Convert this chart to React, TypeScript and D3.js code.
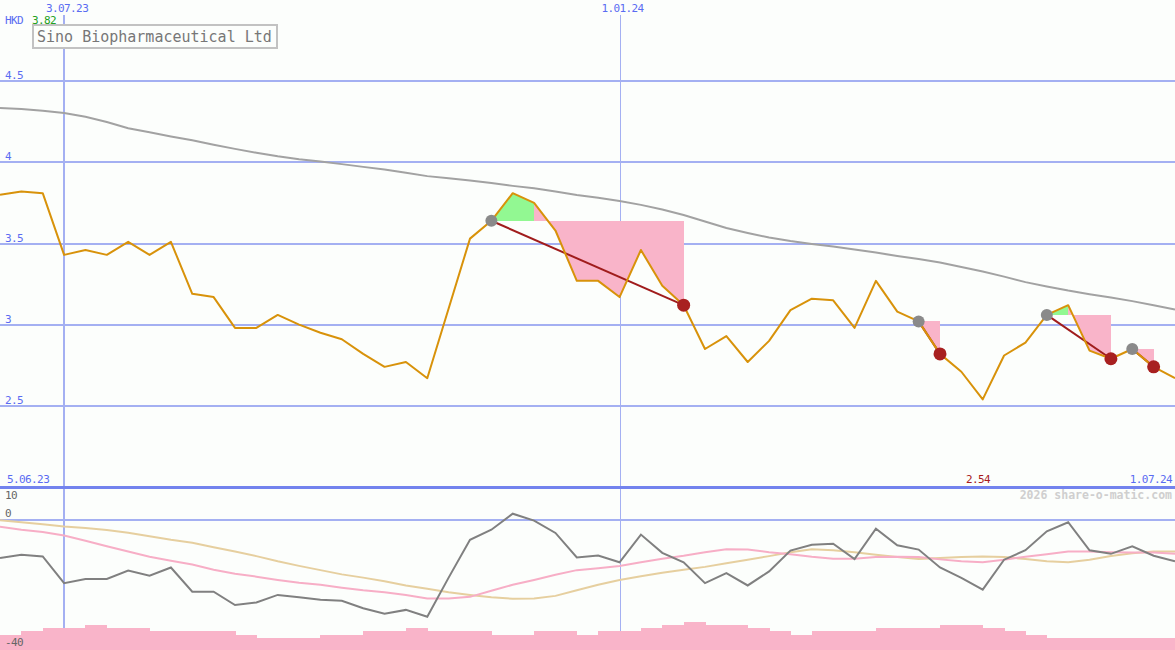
import React from 'react';
import * as d3 from 'd3';

// ---------- data ----------
const startDate = new Date(2023, 5, 12);
const endDate = new Date(2024, 6, 1);
const weeks = d3.timeMonday.range(startDate, d3.timeDay.offset(endDate, 1));

const price = [3.80, 3.82, 3.81, 3.43, 3.46, 3.43, 3.51, 3.43, 3.51, 3.19,
  3.17, 2.98, 2.98, 3.06, 3.00, 2.95, 2.91, 2.82, 2.74, 2.77,
  2.67, 3.10, 3.53, 3.64, 3.81, 3.75, 3.58, 3.27, 3.27, 3.17,
  3.46, 3.24, 3.12, 2.85, 2.93, 2.77, 2.90, 3.09, 3.16, 3.15,
  2.98, 3.27, 3.08, 3.02, 2.82, 2.71, 2.54, 2.81, 2.89, 3.06,
  3.12, 2.84, 2.79, 2.85, 2.74, 2.67];

const longMA = [4.335, 4.328, 4.318, 4.304, 4.281, 4.248, 4.210, 4.185, 4.159, 4.136,
  4.108, 4.083, 4.059, 4.037, 4.019, 4.005, 3.989, 3.972, 3.956, 3.936,
  3.915, 3.902, 3.888, 3.872, 3.855, 3.840, 3.821, 3.799, 3.782, 3.762,
  3.738, 3.710, 3.676, 3.636, 3.596, 3.565, 3.537, 3.515, 3.497, 3.481,
  3.463, 3.444, 3.423, 3.404, 3.383, 3.355, 3.327, 3.296, 3.262, 3.235,
  3.210, 3.188, 3.167, 3.145, 3.120, 3.093];

const oscillator = [-11.8, -10.8, -11.3, -19.5, -18.2, -18.2, -15.6, -17.2, -14.7, -22.1,
  -22.1, -26.2, -25.4, -23.1, -23.8, -24.6, -24.9, -27.2, -28.9, -27.7,
  -29.8, -17.8, -6.2, -3.1, 1.8, -0.3, -4.1, -11.6, -11.0, -13.1,
  -4.6, -10.2, -13.1, -19.5, -16.4, -20.2, -15.9, -9.5, -7.7, -7.4,
  -12.1, -2.8, -7.9, -9.2, -14.7, -17.9, -21.5, -12.3, -9.4, -3.6,
  -0.8, -9.4, -10.5, -8.2, -11.1, -12.8];

const oscFast = [-2.2, -3.1, -3.8, -4.9, -6.5, -8.2, -9.8, -11.4, -12.6, -13.8,
  -15.4, -16.6, -17.5, -18.5, -19.4, -20.0, -20.9, -21.7, -22.3, -23.1,
  -24.2, -24.2, -23.7, -21.8, -20.0, -18.5, -16.9, -15.5, -14.9, -14.2,
  -13.1, -12.0, -11.1, -10.0, -9.1, -9.2, -10.0, -10.6, -11.4, -12.0,
  -12.0, -11.5, -11.4, -11.5, -12.2, -12.8, -13.1, -12.3, -11.4, -10.6,
  -9.8, -9.8, -10.0, -10.1, -10.1, -10.5];

const oscSlow = [-0.2, -0.8, -1.4, -2.1, -2.6, -3.2, -4.0, -5.1, -6.2, -7.1,
  -8.5, -9.8, -11.2, -12.8, -14.2, -15.5, -16.8, -17.8, -18.9, -20.2,
  -21.2, -22.3, -23.1, -23.8, -24.3, -24.2, -23.4, -21.7, -20.0, -18.5,
  -17.4, -16.3, -15.4, -14.5, -13.4, -12.3, -11.2, -10.0, -9.1, -9.4,
  -10.0, -10.8, -11.5, -12.1, -11.8, -11.5, -11.3, -11.5, -12.1, -12.8,
  -13.1, -12.3, -11.2, -10.3, -9.8, -9.8];

const volume = [49, 63, 73, 73, 82, 73, 73, 63, 63, 63,
  63, 49, 40, 40, 40, 49, 49, 63, 63, 73,
  63, 63, 63, 49, 49, 63, 63, 49, 63, 63,
  73, 82, 93, 82, 82, 73, 63, 49, 63, 63,
  63, 73, 73, 73, 82, 82, 73, 63, 49, 40,
  40, 40, 40, 40, 40, 40];

const tradeEntries = [23, 43, 49, 53];
const tradeExits = [32, 44, 52, 54];

const priceTicks = [4.5, 4, 3.5, 3, 2.5];
const dateMarks = [new Date(2023, 6, 3), new Date(2024, 0, 1)];
const dateMarkLabels = ['3.07.23', '1.01.24'];
const oscTickLabels = ['10', '0', '-40'];

const title = 'Sino Biopharmaceutical Ltd';
const currency = 'HKD';
const highLabel = '3.82';
const lowLabel = '2.54';
const startLabel = '5.06.23';
const endLabel = '1.07.24';
const watermark = '2026 share-o-matic.com';

// ---------- layout ----------
const W = 1175;
const H = 650;
const FONT = '"DejaVu Sans Mono", "Liberation Mono", monospace';
const BLUE = '#5a6cf2';
const GRID = '#a4b0f2';
const FS = 11;
const LS = -0.6;

export default function App() {
  const x = d3.scaleTime().domain([startDate, endDate]).range([0, W]);
  const y = d3.scaleLinear().domain([2, 5]).range([487, 0]);
  const yo = d3.scaleLinear().domain([-40, 10]).range([650, 487]);
  const yv = d3.scaleLinear().domain([0, 100]).range([650, 619.5]);

  const lineMain = (vals: number[]) =>
    d3.line<number>().x((_, i) => x(weeks[i])).y((d) => y(d))(vals) || '';
  const lineOsc = (vals: number[]) =>
    d3.line<number>().x((_, i) => x(weeks[i])).y((d) => yo(d))(vals) || '';

  const fills: { d: string; c: string }[] = [];
  tradeEntries.forEach((e, t) => {
    const xEnd = tradeExits[t];
    const level = price[e];
    for (let j = e; j < xEnd; j++) {
      const pts: [number, number][] = [
        [x(weeks[j]), y(level)],
        [x(weeks[j]), y(price[j])],
        [x(weeks[j + 1]), y(price[j + 1])],
        [x(weeks[j + 1]), y(level)],
      ];
      fills.push({
        d: 'M' + pts.map((p) => p.join(',')).join('L') + 'Z',
        c: price[j + 1] >= level ? '#92f892' : '#f9b4c9',
      });
    }
  });

  const crisp = (v: number) => Math.round(v) + 0.5;

  return (
    <svg
      width={W}
      height={H}
      style={{ position: 'fixed', left: 0, top: 0, display: 'block' }}
      fontFamily={FONT}
    >
      <defs>
        <clipPath id="mainClip">
          <rect x={0} y={0} width={W} height={486} />
        </clipPath>
        <clipPath id="oscClip">
          <rect x={0} y={488} width={W} height={162} />
        </clipPath>
      </defs>
      <rect x={0} y={0} width={W} height={H} fill="#fcfefc" />

      {/* horizontal price grid */}
      {priceTicks.map((t) => (
        <g key={t}>
          <line x1={0} x2={W} y1={Math.round(y(t))} y2={Math.round(y(t))} stroke={GRID} strokeWidth={2} shapeRendering="crispEdges" />
          <text x={5} y={Math.round(y(t)) - 2} fontSize={FS} letterSpacing={LS} fill={BLUE}>{String(t)}</text>
        </g>
      ))}

      {/* vertical date lines */}
      {dateMarks.map((d, i) => (
        <g key={i}>
          <line
            x1={i === 0 ? Math.round(x(d)) : crisp(x(d))}
            x2={i === 0 ? Math.round(x(d)) : crisp(x(d))}
            y1={15}
            y2={640}
            stroke={GRID}
            strokeWidth={i === 0 ? 2 : 1}
            shapeRendering="crispEdges"
          />
          <text x={x(d) + 3} y={12} fontSize={FS} letterSpacing={LS} fill={BLUE} textAnchor="middle">
            {dateMarkLabels[i]}
          </text>
        </g>
      ))}

      {/* main panel */}
      <g clipPath="url(#mainClip)">
        <path d={lineMain(longMA)} fill="none" stroke="#a2a2a2" strokeWidth={2} />
        {fills.map((f, i) => (
          <path key={i} d={f.d} fill={f.c} stroke="none" shapeRendering="crispEdges" />
        ))}
        {tradeEntries.map((e, t) => (
          <line
            key={t}
            x1={x(weeks[e])}
            y1={y(price[e])}
            x2={x(weeks[tradeExits[t]])}
            y2={y(price[tradeExits[t]])}
            stroke="#a01c1c"
            strokeWidth={2}
          />
        ))}
        <path d={lineMain(price)} fill="none" stroke="#d8920a" strokeWidth={2} strokeLinejoin="round" />
        {tradeEntries.map((e) => (
          <circle key={'e' + e} cx={x(weeks[e])} cy={y(price[e])} r={6} fill="#8a8a8a" />
        ))}
        {tradeExits.map((e) => (
          <circle key={'x' + e} cx={x(weeks[e])} cy={y(price[e])} r={6.5} fill="#a82020" />
        ))}
      </g>

      {/* title box */}
      <rect x={33} y={25} width={244} height={23} fill="#fcfefc" stroke="#c2c2c2" strokeWidth={2} />
      <text x={37} y={42} fontSize={15} fill="#777">{title}</text>

      <text x={5} y={24} fontSize={FS} letterSpacing={LS} fill={BLUE}>{currency}</text>
      <text x={32} y={24} fontSize={FS} letterSpacing={LS} fill="#22a022">{highLabel}</text>

      <text x={7} y={483} fontSize={FS} letterSpacing={LS} fill={BLUE}>{startLabel}</text>
      <text x={966} y={483} fontSize={FS} letterSpacing={LS} fill="#a81c1c">{lowLabel}</text>
      <text x={1172} y={483} fontSize={FS} letterSpacing={LS} fill={BLUE} textAnchor="end">{endLabel}</text>

      {/* separator */}
      <line x1={0} x2={W} y1={487} y2={487} stroke="#7383ee" strokeWidth={3} shapeRendering="crispEdges" />
      <text x={1172} y={499} fontSize={11.5} fontWeight="bold" fill="#cfcfcf" textAnchor="end">{watermark}</text>

      {/* oscillator panel */}
      <line x1={0} x2={W} y1={Math.round(yo(0))} y2={Math.round(yo(0))} stroke={GRID} strokeWidth={2} shapeRendering="crispEdges" />
      <text x={5} y={499} fontSize={FS} letterSpacing={LS} fill="#666">{oscTickLabels[0]}</text>
      <text x={5} y={517} fontSize={FS} letterSpacing={LS} fill="#666">{oscTickLabels[1]}</text>
      <g clipPath="url(#oscClip)">
        <path d={lineOsc(oscSlow)} fill="none" stroke="#e6cf9f" strokeWidth={2} />
        <path d={lineOsc(oscFast)} fill="none" stroke="#f7aec6" strokeWidth={2} />
        <path d={lineOsc(oscillator)} fill="none" stroke="#808080" strokeWidth={2} />
        {volume.map((v, i) => {
          const x0 = x(weeks[i]);
          const x1 = x(d3.timeDay.offset(weeks[i], 7));
          return (
            <rect
              key={i}
              x={x0}
              y={yv(v)}
              width={x1 - x0 + 0.5}
              height={650 - yv(v)}
              fill="#f9b4c9"
              shapeRendering="crispEdges"
            />
          );
        })}
      </g>
      <text x={5} y={646} fontSize={FS} letterSpacing={LS} fill="#666">{oscTickLabels[2]}</text>
    </svg>
  );
}
